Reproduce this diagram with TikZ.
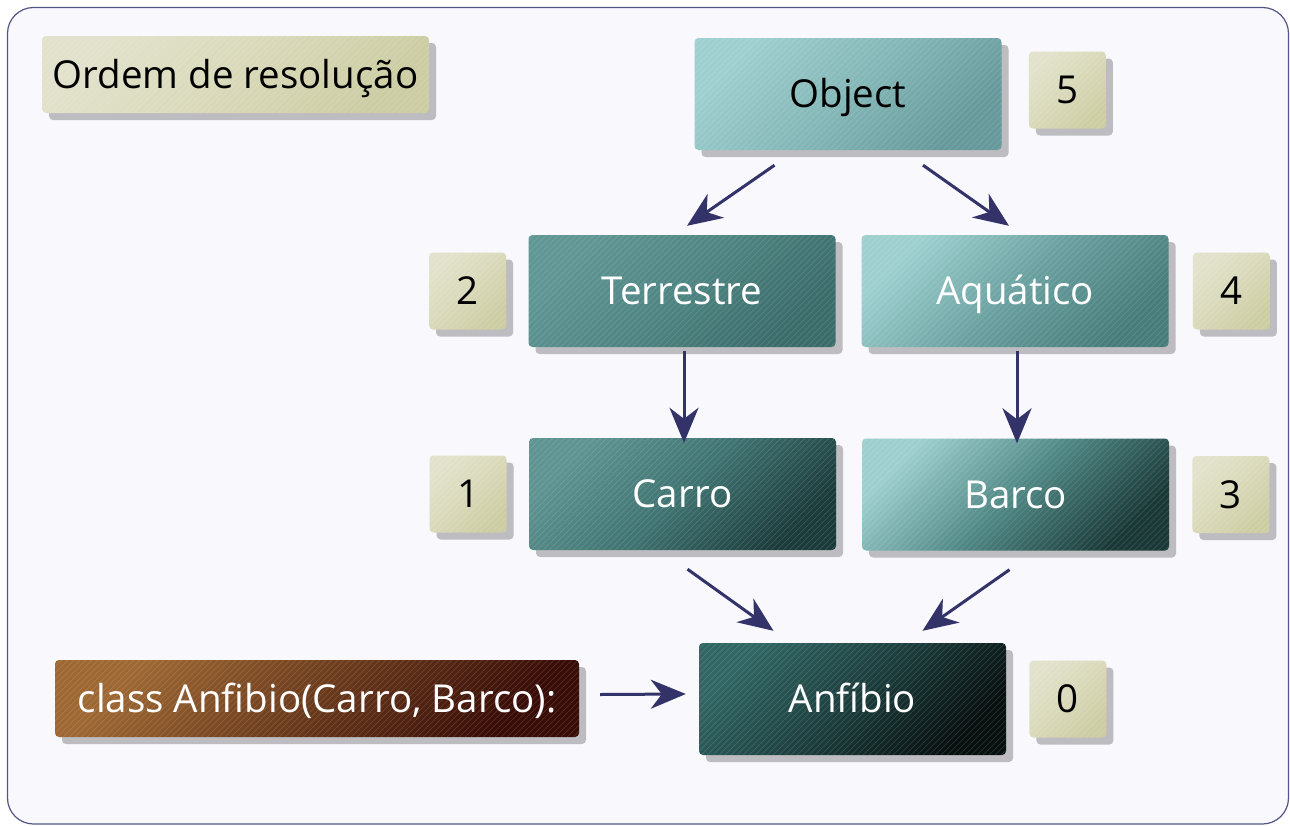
\documentclass[tikz,border=0pt]{standalone}
\usepackage{fontspec}
\setmainfont{Open Sans}
\usetikzlibrary{positioning,calc,shadows,arrows.meta}

\definecolor{framebg}{HTML}{F8F8FD}
\definecolor{framecol}{HTML}{555585}
\definecolor{shadowgray}{HTML}{BDBDC1}
\definecolor{arrowblue}{HTML}{33336A}
\definecolor{khakiA}{HTML}{E2E2CC}
\definecolor{khakiM}{HTML}{D9D9BA}
\definecolor{khakiB}{HTML}{CDCDA4}
\definecolor{objA}{HTML}{9FCFCF}
\definecolor{objM}{HTML}{84B7B7}
\definecolor{objB}{HTML}{66999A}
\definecolor{terA}{HTML}{609693}
\definecolor{terM}{HTML}{4E8481}
\definecolor{terB}{HTML}{3A6C6A}
\definecolor{aquA}{HTML}{9ED0D0}
\definecolor{aquM}{HTML}{6AA1A0}
\definecolor{aquB}{HTML}{467C7A}
\definecolor{carA}{HTML}{5E9491}
\definecolor{carM}{HTML}{3F7371}
\definecolor{carB}{HTML}{1B3B3A}
\definecolor{barA}{HTML}{9DCFCF}
\definecolor{barM}{HTML}{4F8784}
\definecolor{barB}{HTML}{193836}
\definecolor{anfA}{HTML}{306663}
\definecolor{anfM}{HTML}{1C3E3D}
\definecolor{anfB}{HTML}{070F0F}
\definecolor{clsA}{HTML}{9E6833}
\definecolor{clsM}{HTML}{6A3A1C}
\definecolor{clsB}{HTML}{380C07}

\begin{document}
\begin{tikzpicture}[x=1pt,y=-1pt,
    every node/.style={font=\fontsize{38.5}{44}\selectfont},
    box/.style={rectangle,rounded corners=4pt,inner sep=0pt,
      text height=35pt,text depth=8pt,
      minimum width=307pt,minimum height=112pt,text=white,
      drop shadow={shadow xshift=7pt,shadow yshift=-7pt,fill=shadowgray,opacity=1},
      path picture={\foreach \i in {-130,-124,...,530}
        \draw[white,opacity=0.13,line width=0.7pt]
          ([xshift=\i pt]path picture bounding box.south west) -- ++(140pt,140pt);}},
    tint/.style n args={3}{top color=#1,bottom color=#3,middle color=#2,shading angle=45},
    num node/.style={box,text=black,minimum width=77pt,minimum height=77pt,tint={khakiA}{khakiM}{khakiB}},
    arr/.style={draw=arrowblue,line width=3pt,-{Stealth[length=35pt,width=29pt,inset=11pt]}}]

  \path[use as bounding box] (0,0) rectangle (1290,825);
  \draw[framecol,line width=1.2pt,fill=framebg,rounded corners=26pt] (7.5,7.5) rectangle (1288.5,824);

  \node[box,tint={khakiA}{khakiM}{khakiB},text=black,minimum width=387pt,minimum height=77pt] (ordem) at (235.5,74.5) {Ordem de resolução};

  \node[box,tint={objA}{objM}{objB},text=black] (Object) at (848,94) {Object};
  \node[num node,right=27pt of Object,yshift=4pt] (n5) {5};

  \node[box,tint={terA}{terM}{terB}] (Terrestre) at (682,291) {Terrestre};
  \node[box,tint={aquA}{aquM}{aquB}] (Aquatico) at (1015,291) {Aquático};
  \node[num node,left=22pt of Terrestre] (n2) {2};
  \node[num node,right=24pt of Aquatico] (n4) {4};

  \node[box,tint={carA}{carM}{carB}] (Carro) at (682.5,494) {Carro};
  \node[box,tint={barA}{barM}{barB}] (Barco) at (1015.5,494.5) {Barco};
  \node[num node,left=22pt of Carro] (n1) {1};
  \node[num node,right=23pt of Barco] (n3) {3};

  \node[box,tint={anfA}{anfM}{anfB}] (Anfibio) at (852.5,699) {Anfíbio};
  \node[num node,right=23pt of Anfibio] (n0) {0};
  \node[box,tint={clsA}{clsM}{clsB},minimum width=524pt,minimum height=77pt] (classdef) at (317,698.5) {class Anfibio(Carro, Barco):};

  % heranca
  \draw[arr] ($(Object.south)+(-73.5,15)$) -- ($(Terrestre.north)+(5,-9)$);
  \draw[arr] ($(Object.south)+(75,15)$) -- ($(Aquatico.north)+(-6,-9)$);
  \draw[arr] ($(Terrestre.south)+(2,4)$) -- ($(Carro.north)+(1.5,5)$);
  \draw[arr] ($(Aquatico.south)+(2,4)$) -- ($(Barco.north)+(1.5,5)$);
  \draw[arr] ($(Carro.south)+(5,19)$) -- ($(Anfibio.north)+(-79,-12)$);
  \draw[arr] ($(Barco.south)+(-6,19)$) -- ($(Anfibio.north)+(70,-12)$);
  \draw[arr] ($(classdef.east)+(21,-4)$) -- ($(Anfibio.west)+(-13,-5)$);
\end{tikzpicture}
\end{document}
